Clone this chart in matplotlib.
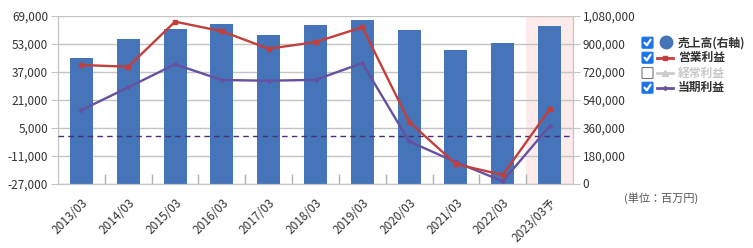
import matplotlib
matplotlib.use("Agg")
import matplotlib.pyplot as plt
from matplotlib.lines import Line2D
from matplotlib.patches import FancyBboxPatch
import numpy as np

plt.rcParams['font.family'] = ['Noto Sans CJK JP', 'DejaVu Sans']

categories = ["2013/03", "2014/03", "2015/03", "2016/03", "2017/03", "2018/03",
              "2019/03", "2020/03", "2021/03", "2022/03", "2023/03予"]
sales = [807000, 930000, 994000, 1026000, 956000, 1020000, 1052000, 988000, 859000, 904000, 1014000]
operating_profit = [40800, 39800, 65600, 60100, 50100, 53900, 62400, 8300, -15900, -22100, 15400]
net_profit = [15000, 28000, 41200, 32200, 31800, 32300, 41900, -2900, -14800, -25700, 5800]
left_ticks = [-27000, -11000, 5000, 21000, 37000, 53000, 69000]
right_ticks = [0, 180000, 360000, 540000, 720000, 900000, 1080000]
legend_labels = ["売上高(右軸)", "営業利益", "経常利益", "当期利益"]
unit_label = "(単位：百万円)"

BLUE = "#4674b8"
RED = "#c23f3b"
PURPLE = "#6650a0"
DASH = "#4a2f78"
GRID = "#c4c4c4"
TXT = "#333333"
PINK = "#fdeaea"

fig = plt.figure(figsize=(7.53, 2.48), dpi=100)
L, R, B, T = 58/753, 573/753, 1 - 183.5/248, 1 - 15.7/248
ax2 = fig.add_axes([L, B, R - L, T - B])  # bars (right axis)
ax = ax2.twinx()                          # lines (left axis)

x = np.arange(len(categories))

# bars axis
ax2.set_axisbelow(True)
ax2.axvspan(len(categories) - 1.5, len(categories) - 0.5, color=PINK, zorder=0.2, lw=0)
ax2.bar(x, sales, width=0.49, color=BLUE, zorder=2)
ax2.set_ylim(0, 1080000)
ax2.set_yticks(right_ticks)
ax2.yaxis.tick_right()
ax2.yaxis.set_label_position("right")
ax2.set_yticklabels([f"{v:,}" for v in right_ticks])
ax2.grid(axis='y', color=GRID, lw=1)
ax2.set_xlim(-0.5, len(categories) - 0.5)
ax2.set_xticks(x)
ax2.set_xticklabels(categories, rotation=45, ha='right', rotation_mode='anchor')
ax2.tick_params(axis='x', length=0, pad=9, labelsize=8.5, labelcolor=TXT)
ax2.set_xticks(np.arange(0.5, len(categories) - 1, 1), minor=True)
ax2.tick_params(axis='x', which='minor', direction='in', length=7, color="#b0b0b0", width=1)
ax2.tick_params(axis='y', length=5, color=GRID, labelsize=8.5, labelcolor=TXT, pad=2)

# lines axis
ax.yaxis.tick_left()
ax.yaxis.set_label_position("left")
ax.set_ylim(-27000, 69000)
ax.set_yticks(left_ticks)
ax.set_yticklabels([f"{v:,}" for v in left_ticks])
ax.tick_params(axis='y', length=5, color=GRID, labelsize=8.5, labelcolor=TXT, pad=2)
ax.axhline(0, color=DASH, lw=1, ls=(0, (4, 3)), zorder=3)
ax.plot(x, operating_profit, color=RED, lw=1.7, marker='s', ms=3.5, zorder=5)
ax.plot(x, net_profit, color=PURPLE, lw=1.7, marker='D', ms=2, zorder=4)

for a in (ax, ax2):
    for s in a.spines.values():
        s.set_color(GRID)
    a.spines['top'].set_visible(False)

# legend (manual)
def fx(px):
    return px / 753
def fy(py):
    return 1 - py / 248

rows = [42.7, 57.7, 73.0, 87.7]
checked = [True, True, False, True]
for i, (yy, lab, chk) in enumerate(zip(rows, legend_labels, checked)):
    bx, bw = 642, 11
    if chk:
        box = FancyBboxPatch((fx(bx), fy(yy + bw/2)), fx(bw), bw/248,
                             boxstyle="round,pad=0,rounding_size=0.002",
                             transform=fig.transFigure, fc="#1a73e8", ec="#1a73e8", lw=0.8)
        fig.patches.append(box)
        fig.lines.append(Line2D([fx(bx + 2.5), fx(bx + 4.8), fx(bx + 8.6)],
                                [fy(yy), fy(yy + 2.6), fy(yy - 3)],
                                transform=fig.transFigure, color='white', lw=1.6,
                                solid_capstyle='round', solid_joinstyle='round'))
    else:
        box = FancyBboxPatch((fx(bx), fy(yy + bw/2)), fx(bw), bw/248,
                             boxstyle="round,pad=0,rounding_size=0.002",
                             transform=fig.transFigure, fc="white", ec="#777777", lw=0.8)
        fig.patches.append(box)
    color = TXT
    if i == 0:
        fig.lines.append(Line2D([fx(665.5)], [fy(yy - 0.5)], marker='o', ms=9,
                                color=BLUE, transform=fig.transFigure))
    elif i == 1:
        fig.lines.append(Line2D([fx(657), fx(673)], [fy(yy), fy(yy)], color=RED, lw=2,
                                transform=fig.transFigure))
        fig.lines.append(Line2D([fx(665)], [fy(yy)], color=RED, marker='s', ms=3.5,
                                transform=fig.transFigure))
    elif i == 2:
        color = "#c8c8c8"
        fig.lines.append(Line2D([fx(657), fx(673)], [fy(yy), fy(yy)], color="#cccccc", lw=2,
                                transform=fig.transFigure))
        fig.lines.append(Line2D([fx(665)], [fy(yy)], color="#cccccc", marker='^', ms=4,
                                transform=fig.transFigure))
    else:
        fig.lines.append(Line2D([fx(657), fx(673)], [fy(yy), fy(yy)], color=PURPLE, lw=2,
                                transform=fig.transFigure))
        fig.lines.append(Line2D([fx(665)], [fy(yy)], color=PURPLE, marker='D', ms=2,
                                transform=fig.transFigure))
    fig.text(fx(678), fy(yy), lab, fontsize=8.5, fontweight='bold', color=color,
             va='center', ha='left')

fig.text(fx(661), fy(198), unit_label, fontsize=8, color="#555555", ha='center', va='center')

fig.savefig("out.png", dpi=100)
